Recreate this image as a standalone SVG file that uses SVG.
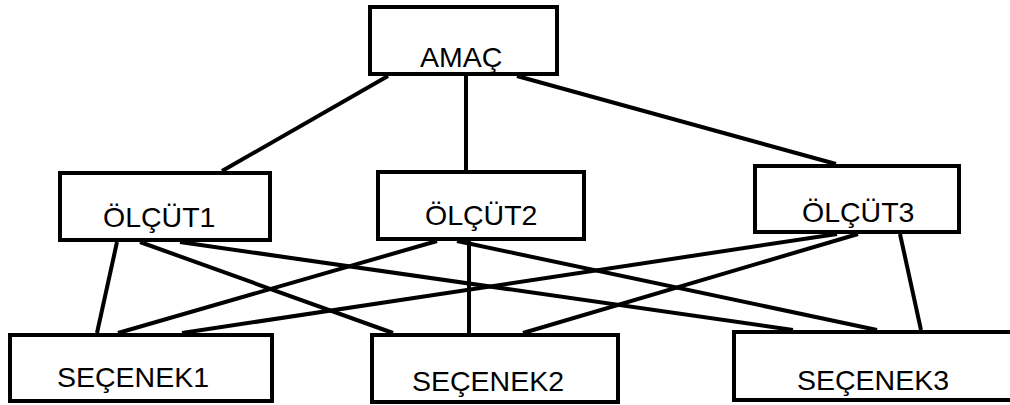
<svg xmlns="http://www.w3.org/2000/svg" width="1010" height="405" viewBox="0 0 1010 405">
<style>
.box{fill:#fff;stroke:#000;stroke-width:4}
.lbl{font-family:"Liberation Sans",Arial,sans-serif;font-size:28.5px;fill:#000}
.edge{stroke:#000;stroke-width:4;fill:none;stroke-linecap:butt}
</style>
<rect width="1010" height="405" fill="#fff"/>
<g id="connectors">
<line class="edge" x1="388" y1="76" x2="222" y2="171"/>
<line class="edge" x1="466" y1="76" x2="466" y2="170"/>
<line class="edge" x1="517" y1="76" x2="836" y2="164"/>
<line class="edge" x1="117" y1="242" x2="97" y2="333"/>
<line class="edge" x1="140" y1="242" x2="393" y2="333"/>
<line class="edge" x1="180" y1="242" x2="793" y2="330"/>
<line class="edge" x1="437" y1="241" x2="118" y2="333"/>
<line class="edge" x1="469" y1="241" x2="469" y2="333"/>
<line class="edge" x1="457" y1="241" x2="877" y2="330"/>
<line class="edge" x1="837" y1="234" x2="182" y2="333"/>
<line class="edge" x1="858" y1="234" x2="523" y2="333"/>
<line class="edge" x1="900" y1="234" x2="921" y2="330"/>
</g>
<g id="amac"><rect class="box" x="370" y="7" width="187" height="67"/><text class="lbl" x="420" y="67">AMAÇ</text></g>
<g id="olcut1"><rect class="box" x="60" y="173" width="210" height="67"/><text class="lbl" x="103" y="227">ÖLÇÜT1</text></g>
<g id="olcut2"><rect class="box" x="378" y="172" width="206" height="67"/><text class="lbl" x="425" y="225">ÖLÇÜT2</text></g>
<g id="olcut3"><rect class="box" x="755" y="166" width="204" height="66"/><text class="lbl" x="802" y="222">ÖLÇÜT3</text></g>
<g id="secenek1"><rect class="box" x="10" y="335" width="262" height="66"/><text class="lbl" x="57" y="387">SEÇENEK1</text></g>
<g id="secenek2"><rect class="box" x="372" y="335" width="246" height="67"/><text class="lbl" x="412" y="391">SEÇENEK2</text></g>
<g id="secenek3"><rect class="box" x="734" y="332" width="290" height="68"/><text class="lbl" x="797" y="390">SEÇENEK3</text></g>
</svg>
